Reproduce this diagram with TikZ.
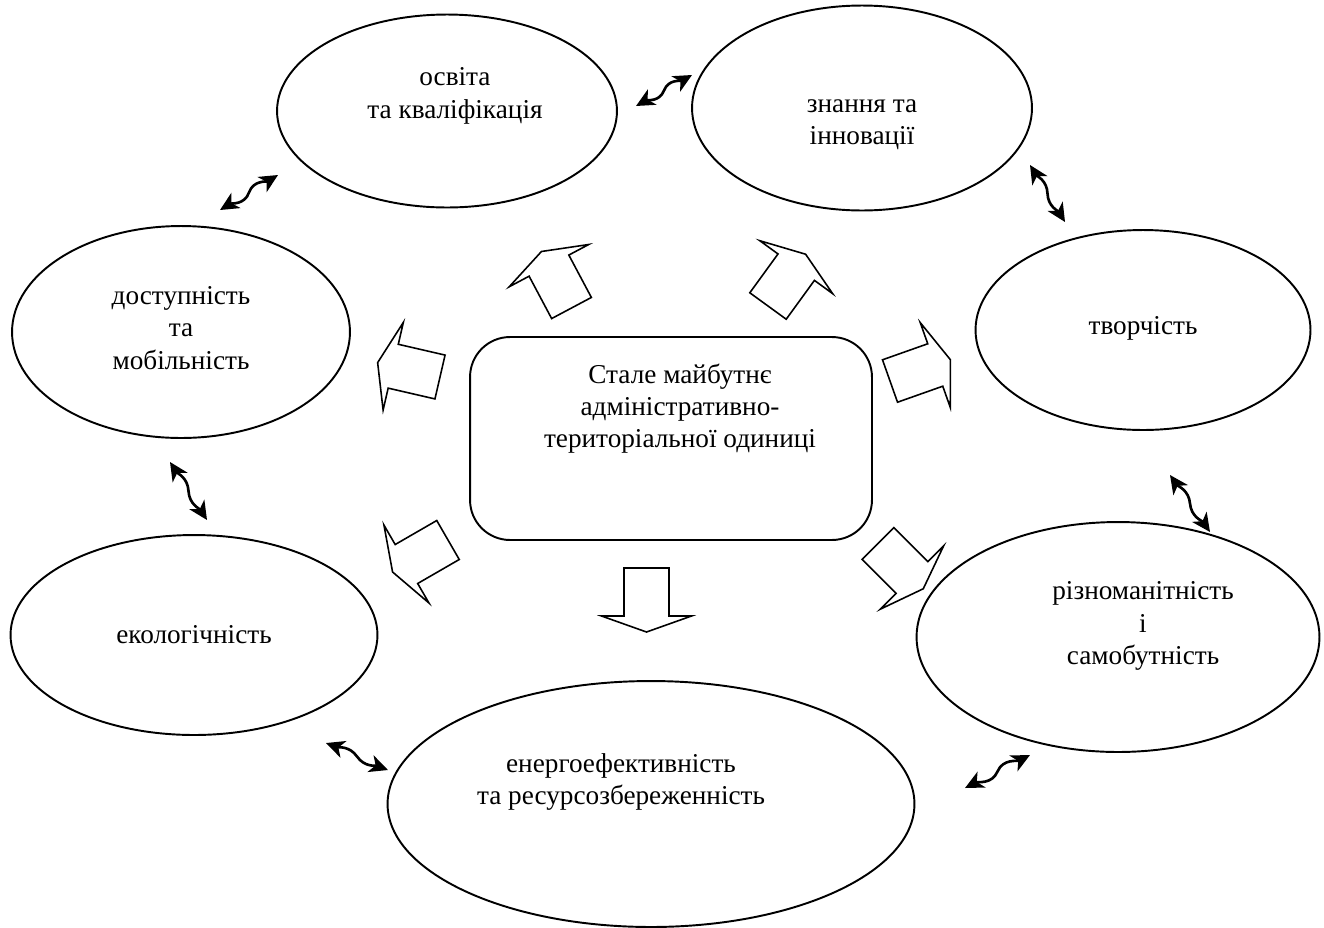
\documentclass[tikz,border=0pt]{standalone}
\usepackage{fontspec}
\setmainfont{Liberation Serif}
\usetikzlibrary{arrows.meta,calc,positioning,shapes.geometric}

\begin{document}
\begin{tikzpicture}[x=0.02cm,y=-0.02cm,
  oval/.style={draw,ellipse,line width=1.1pt,inner sep=0pt},
  txt/.style={align=center,inner sep=0pt,font=\fontsize{15.5pt}{18.4pt}\selectfont},
  linkarrow/.style={{Stealth[length=10.5pt,width=10pt,inset=3pt]}-{Stealth[length=10.5pt,width=10pt,inset=3pt]},line width=1.5pt},
  blockarrow/.style={draw,line width=0.9pt,fill=white}]
  \useasboundingbox (0,0) rectangle (1324,927);

  % ellipses round the centre
  \node[oval,minimum width=6.8cm,minimum height=3.86cm] (osvita) at (447,111) {};
  \node[oval,minimum width=6.8cm,minimum height=4.1cm] (znannia) at (862,108) {};
  \node[oval,minimum width=6.7cm,minimum height=4.0cm] (tvorch) at (1143,330) {};
  \node[oval,minimum width=8.06cm,minimum height=4.6cm] (rizn) at (1118,637) {};
  \node[oval,minimum width=10.54cm,minimum height=4.92cm] (energ) at (651,804) {};
  \node[oval,minimum width=7.34cm,minimum height=4.0cm] (ekol) at (194,635) {};
  \node[oval,minimum width=6.76cm,minimum height=4.24cm] (dostup) at (181,332) {};

  \node[txt] (osvitatxt) at ([shift={(8,-15)}]osvita.center) {освіта\\та кваліфікація};
  \node[txt] (znanniatxt) at ([shift={(0,17)}]znannia.center) {знання та\\інновації};
  \node[txt] (tvorchtxt) at ([shift={(0,-2)}]tvorch.center) {творчість};
  \node[txt] (rizntxt) at ([shift={(25,-11)}]rizn.center) {різноманітність\\і\\самобутність};
  \node[txt] (energtxt) at ([shift={(-30,-22)}]energ.center) {енергоефективність\\та ресурсозбереженність};
  \node[txt] (ekoltxt) at (ekol.center) {екологічність};
  \node[txt] (dostuptxt) at ([shift={(0,-4)}]dostup.center) {доступність\\та\\мобільність};

  % centre box
  \node[draw,line width=1.1pt,rounded corners=0.8cm,minimum width=8.04cm,minimum height=4.06cm] (core) at (671,438.5) {};
  \node[txt] (coretxt) at ([shift={(9,-30)}]core.center) {Стале майбутнє\\адміністративно-\\територіальної одиниці};

  % block arrows out of the box
  \foreach \x/\y/\t in {646.5/568/90, 878/543.5/45, 890/381/-19.5, 768/306/-54,
                        571.5/308/-118, 440/377/-167, 448/540/150}
    \draw[blockarrow,shift={(\x,\y)},rotate=-\t]
      (0,-22.5) -- (48,-22.5) -- (48,-45) -- (64,0) -- (48,45) -- (48,22.5) -- (0,22.5) -- cycle;

  % curly two-way links between neighbours
  \coordinate (w1a) at (636,106);  \coordinate (w1b) at (692,75);
  \coordinate (w2a) at (220,210);  \coordinate (w2b) at (278,175);
  \coordinate (w3a) at (1030,165); \coordinate (w3b) at (1065,222);
  \coordinate (w4a) at (170,462);  \coordinate (w4b) at (207,520);
  \coordinate (w5a) at (1170,475); \coordinate (w5b) at (1210,532);
  \coordinate (w6a) at (326,743);  \coordinate (w6b) at (388,770);
  \coordinate (w7a) at (965,788);  \coordinate (w7b) at (1030,755);
  \foreach \p/\c/\m in {w1/29/69, w2/31/71, w3/-58/-88, w4/-57/-87,
                        w5/-55/-85, w6/-20/-55, w7/27/67} {
    \pgfmathsetmacro\cback{\c+180}
    \pgfmathsetmacro\mback{\m+180}
    \draw[linkarrow] (\p a) to[out=\c,in=\mback] ($(\p a)!0.5!(\p b)$) to[out=\m,in=\cback] (\p b);
  }
\end{tikzpicture}
\end{document}
